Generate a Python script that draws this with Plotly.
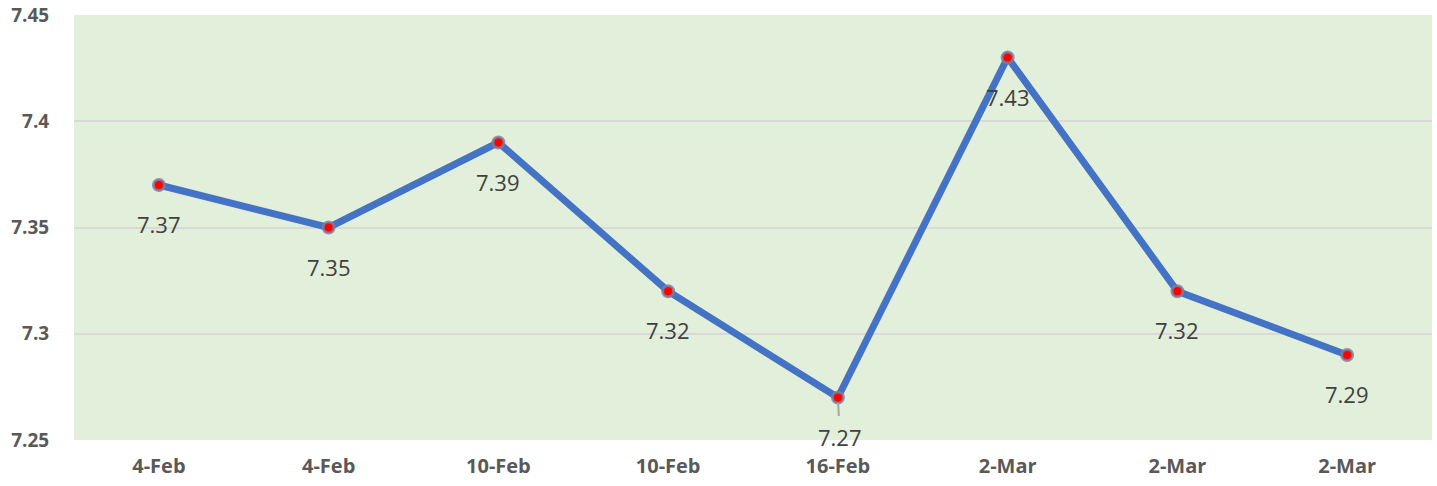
import plotly.graph_objects as go

categories = ["4-Feb", "4-Feb", "10-Feb", "10-Feb", "16-Feb", "2-Mar", "2-Mar", "2-Mar"]
values = [7.37, 7.35, 7.39, 7.32, 7.27, 7.43, 7.32, 7.29]
labels = ["7.37", "7.35", "7.39", "7.32", "7.27", "7.43", "7.32", "7.29"]
y_ticks = [7.25, 7.3, 7.35, 7.4, 7.45]
y_tick_text = ["7.25", "7.3", "7.35", "7.4", "7.45"]

idx = list(range(len(categories)))

fig = go.Figure()
fig.add_trace(go.Scatter(
    x=idx, y=values, mode="lines+markers",
    line=dict(color="#4472C4", width=7),
    marker=dict(color="#FF0000", size=11, line=dict(color="rgba(120,130,160,0.8)", width=3)),
    hoverinfo="skip", showlegend=False,
))

label_font = dict(family="Open Sans", size=22, color="#404040")
for i, v, t in zip(idx, values, labels):
    if t == "7.27":
        fig.add_annotation(
            x=i, y=v, text=t, showarrow=True, arrowhead=0, arrowwidth=2,
            arrowcolor="#A6A6A6", ax=2, ay=39, standoff=5, startstandoff=4,
            font=label_font,
        )
    else:
        fig.add_annotation(x=i, y=v, text=t, showarrow=False, yshift=-39, font=label_font)

fig.update_layout(
    width=1437, height=486,
    margin=dict(l=74, r=5, t=15, b=46),
    paper_bgcolor="white", plot_bgcolor="#E2EFDA",
    font=dict(family="Open Sans"),
)
fig.update_xaxes(
    tickvals=idx, ticktext=categories, range=[-0.5, len(categories) - 0.5],
    showgrid=False, zeroline=False, showline=False, automargin=False,
    ticks="outside", ticklen=8, tickcolor="rgba(0,0,0,0)",
    tickfont=dict(family="Open Sans", size=20, color="#595959", weight="bold"),
)
fig.update_yaxes(
    range=[7.25, 7.45], tickvals=y_ticks, ticktext=y_tick_text,
    showgrid=True, gridcolor="#D9D9D9", gridwidth=2, zeroline=False,
    showline=False, ticks="outside", ticklen=20, tickcolor="rgba(0,0,0,0)",
    ticklabeloverflow="allow", automargin=False,
    tickfont=dict(family="Open Sans", size=19, color="#595959", weight="bold"),
)
fig.write_html(
    "out.html",
    config={"displayModeBar": False},
    post_script="document.body.style.margin='0';document.body.style.overflow='hidden';",
)
